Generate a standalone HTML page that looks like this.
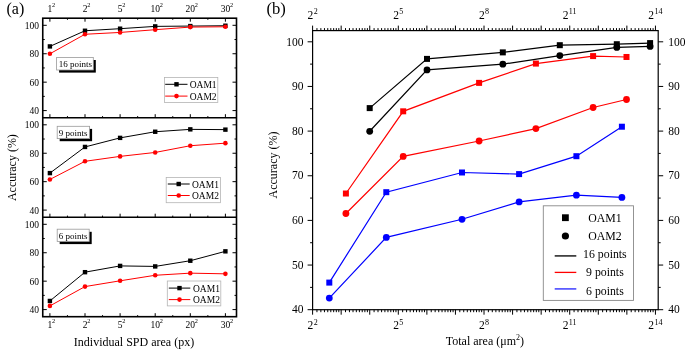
<!DOCTYPE html>
<html><head><meta charset="utf-8"><style>
html,body{margin:0;padding:0;background:#fff;}
svg{display:block;filter:blur(0.3px);}
text{font-family:"Liberation Serif", serif;fill:#000;stroke:none;}
.lt{font-size:9.5px;}
.rt{font-size:11.5px;}
</style></head><body>
<svg width="685" height="351" viewBox="0 0 685 351" stroke="#000" stroke-width="1">
<rect x="0" y="0" width="685" height="351" fill="#fff" stroke="none"/>
<g stroke="none">
</g>
<line x1="42.75" y1="110.59" x2="46.75" y2="110.59"/>
<line x1="236.5" y1="110.59" x2="232.5" y2="110.59"/>
<line x1="42.75" y1="96.38" x2="44.75" y2="96.38"/>
<line x1="236.5" y1="96.38" x2="234.5" y2="96.38"/>
<line x1="42.75" y1="82.16" x2="46.75" y2="82.16"/>
<line x1="236.5" y1="82.16" x2="232.5" y2="82.16"/>
<line x1="42.75" y1="67.95" x2="44.75" y2="67.95"/>
<line x1="236.5" y1="67.95" x2="234.5" y2="67.95"/>
<line x1="42.75" y1="53.74" x2="46.75" y2="53.74"/>
<line x1="236.5" y1="53.74" x2="232.5" y2="53.74"/>
<line x1="42.75" y1="39.52" x2="44.75" y2="39.52"/>
<line x1="236.5" y1="39.52" x2="234.5" y2="39.52"/>
<line x1="42.75" y1="25.31" x2="46.75" y2="25.31"/>
<line x1="236.5" y1="25.31" x2="232.5" y2="25.31"/>
<line x1="49.9" y1="117.7" x2="49.9" y2="114.2"/>
<line x1="67.45" y1="117.7" x2="67.45" y2="116.1"/>
<line x1="49.9" y1="18.2" x2="49.9" y2="21.7"/>
<line x1="67.45" y1="18.2" x2="67.45" y2="19.8"/>
<line x1="85" y1="117.7" x2="85" y2="114.2"/>
<line x1="102.55" y1="117.7" x2="102.55" y2="116.1"/>
<line x1="85" y1="18.2" x2="85" y2="21.7"/>
<line x1="102.55" y1="18.2" x2="102.55" y2="19.8"/>
<line x1="120.1" y1="117.7" x2="120.1" y2="114.2"/>
<line x1="137.65" y1="117.7" x2="137.65" y2="116.1"/>
<line x1="120.1" y1="18.2" x2="120.1" y2="21.7"/>
<line x1="137.65" y1="18.2" x2="137.65" y2="19.8"/>
<line x1="155.2" y1="117.7" x2="155.2" y2="114.2"/>
<line x1="172.75" y1="117.7" x2="172.75" y2="116.1"/>
<line x1="155.2" y1="18.2" x2="155.2" y2="21.7"/>
<line x1="172.75" y1="18.2" x2="172.75" y2="19.8"/>
<line x1="190.3" y1="117.7" x2="190.3" y2="114.2"/>
<line x1="207.85" y1="117.7" x2="207.85" y2="116.1"/>
<line x1="190.3" y1="18.2" x2="190.3" y2="21.7"/>
<line x1="207.85" y1="18.2" x2="207.85" y2="19.8"/>
<line x1="225.4" y1="117.7" x2="225.4" y2="114.2"/>
<line x1="225.4" y1="18.2" x2="225.4" y2="21.7"/>
<text class="lt" x="39.1" y="114.19" text-anchor="end">40</text>
<text class="lt" x="39.1" y="85.76" text-anchor="end">60</text>
<text class="lt" x="39.1" y="57.34" text-anchor="end">80</text>
<text class="lt" x="39.1" y="28.91" text-anchor="end">100</text>
<line x1="42.75" y1="210.09" x2="46.75" y2="210.09"/>
<line x1="236.5" y1="210.09" x2="232.5" y2="210.09"/>
<line x1="42.75" y1="195.88" x2="44.75" y2="195.88"/>
<line x1="236.5" y1="195.88" x2="234.5" y2="195.88"/>
<line x1="42.75" y1="181.66" x2="46.75" y2="181.66"/>
<line x1="236.5" y1="181.66" x2="232.5" y2="181.66"/>
<line x1="42.75" y1="167.45" x2="44.75" y2="167.45"/>
<line x1="236.5" y1="167.45" x2="234.5" y2="167.45"/>
<line x1="42.75" y1="153.24" x2="46.75" y2="153.24"/>
<line x1="236.5" y1="153.24" x2="232.5" y2="153.24"/>
<line x1="42.75" y1="139.02" x2="44.75" y2="139.02"/>
<line x1="236.5" y1="139.02" x2="234.5" y2="139.02"/>
<line x1="42.75" y1="124.81" x2="46.75" y2="124.81"/>
<line x1="236.5" y1="124.81" x2="232.5" y2="124.81"/>
<line x1="49.9" y1="217.2" x2="49.9" y2="213.7"/>
<line x1="67.45" y1="217.2" x2="67.45" y2="215.6"/>
<line x1="85" y1="217.2" x2="85" y2="213.7"/>
<line x1="102.55" y1="217.2" x2="102.55" y2="215.6"/>
<line x1="120.1" y1="217.2" x2="120.1" y2="213.7"/>
<line x1="137.65" y1="217.2" x2="137.65" y2="215.6"/>
<line x1="155.2" y1="217.2" x2="155.2" y2="213.7"/>
<line x1="172.75" y1="217.2" x2="172.75" y2="215.6"/>
<line x1="190.3" y1="217.2" x2="190.3" y2="213.7"/>
<line x1="207.85" y1="217.2" x2="207.85" y2="215.6"/>
<line x1="225.4" y1="217.2" x2="225.4" y2="213.7"/>
<text class="lt" x="39.1" y="213.69" text-anchor="end">40</text>
<text class="lt" x="39.1" y="185.26" text-anchor="end">60</text>
<text class="lt" x="39.1" y="156.84" text-anchor="end">80</text>
<text class="lt" x="39.1" y="128.41" text-anchor="end">100</text>
<line x1="42.75" y1="309.59" x2="46.75" y2="309.59"/>
<line x1="236.5" y1="309.59" x2="232.5" y2="309.59"/>
<line x1="42.75" y1="295.38" x2="44.75" y2="295.38"/>
<line x1="236.5" y1="295.38" x2="234.5" y2="295.38"/>
<line x1="42.75" y1="281.16" x2="46.75" y2="281.16"/>
<line x1="236.5" y1="281.16" x2="232.5" y2="281.16"/>
<line x1="42.75" y1="266.95" x2="44.75" y2="266.95"/>
<line x1="236.5" y1="266.95" x2="234.5" y2="266.95"/>
<line x1="42.75" y1="252.74" x2="46.75" y2="252.74"/>
<line x1="236.5" y1="252.74" x2="232.5" y2="252.74"/>
<line x1="42.75" y1="238.52" x2="44.75" y2="238.52"/>
<line x1="236.5" y1="238.52" x2="234.5" y2="238.52"/>
<line x1="42.75" y1="224.31" x2="46.75" y2="224.31"/>
<line x1="236.5" y1="224.31" x2="232.5" y2="224.31"/>
<line x1="49.9" y1="316.7" x2="49.9" y2="313.2"/>
<line x1="67.45" y1="316.7" x2="67.45" y2="315.1"/>
<line x1="85" y1="316.7" x2="85" y2="313.2"/>
<line x1="102.55" y1="316.7" x2="102.55" y2="315.1"/>
<line x1="120.1" y1="316.7" x2="120.1" y2="313.2"/>
<line x1="137.65" y1="316.7" x2="137.65" y2="315.1"/>
<line x1="155.2" y1="316.7" x2="155.2" y2="313.2"/>
<line x1="172.75" y1="316.7" x2="172.75" y2="315.1"/>
<line x1="190.3" y1="316.7" x2="190.3" y2="313.2"/>
<line x1="207.85" y1="316.7" x2="207.85" y2="315.1"/>
<line x1="225.4" y1="316.7" x2="225.4" y2="313.2"/>
<text class="lt" x="39.1" y="313.19" text-anchor="end">40</text>
<text class="lt" x="39.1" y="284.76" text-anchor="end">60</text>
<text class="lt" x="39.1" y="256.34" text-anchor="end">80</text>
<text class="lt" x="39.1" y="227.91" text-anchor="end">100</text>
<rect x="42.75" y="18.2" width="193.75" height="298.5" fill="none" stroke-width="1.6"/>
<line x1="42.75" y1="117.7" x2="236.5" y2="117.7" stroke-width="1.6"/>
<line x1="42.75" y1="217.2" x2="236.5" y2="217.2" stroke-width="1.6"/>
<text class="lt" x="49.9" y="11.9" text-anchor="middle">1</text><text x="52.07" y="6.6" font-size="6.3">2</text>
<text class="lt" x="49.9" y="328" text-anchor="middle">1</text><text x="52.07" y="323.1" font-size="6.3">2</text>
<text class="lt" x="85" y="11.9" text-anchor="middle">2</text><text x="87.17" y="6.6" font-size="6.3">2</text>
<text class="lt" x="85" y="328" text-anchor="middle">2</text><text x="87.17" y="323.1" font-size="6.3">2</text>
<text class="lt" x="120.1" y="11.9" text-anchor="middle">5</text><text x="122.27" y="6.6" font-size="6.3">2</text>
<text class="lt" x="120.1" y="328" text-anchor="middle">5</text><text x="122.27" y="323.1" font-size="6.3">2</text>
<text class="lt" x="155.2" y="11.9" text-anchor="middle">10</text><text x="159.75" y="6.6" font-size="6.3">2</text>
<text class="lt" x="155.2" y="328" text-anchor="middle">10</text><text x="159.75" y="323.1" font-size="6.3">2</text>
<text class="lt" x="190.3" y="11.9" text-anchor="middle">20</text><text x="194.85" y="6.6" font-size="6.3">2</text>
<text class="lt" x="190.3" y="328" text-anchor="middle">20</text><text x="194.85" y="323.1" font-size="6.3">2</text>
<text class="lt" x="225.4" y="11.9" text-anchor="middle">30</text><text x="229.95" y="6.6" font-size="6.3">2</text>
<text class="lt" x="225.4" y="328" text-anchor="middle">30</text><text x="229.95" y="323.1" font-size="6.3">2</text>
<polyline points="49.9,46.42 85,30.75 120.1,28.68 155.2,26.39 190.3,26.07 225.4,25.72" fill="none" stroke="#000" stroke-width="1"/>
<rect x="47.7" y="44.22" width="4.4" height="4.4" fill="#000" stroke="none"/>
<rect x="82.8" y="28.55" width="4.4" height="4.4" fill="#000" stroke="none"/>
<rect x="117.9" y="26.48" width="4.4" height="4.4" fill="#000" stroke="none"/>
<rect x="153" y="24.19" width="4.4" height="4.4" fill="#000" stroke="none"/>
<rect x="188.1" y="23.87" width="4.4" height="4.4" fill="#000" stroke="none"/>
<rect x="223.2" y="23.52" width="4.4" height="4.4" fill="#000" stroke="none"/>
<polyline points="49.9,53.79 85,34.25 120.1,32.44 155.2,29.7 190.3,27.08 225.4,26.77" fill="none" stroke="#f00" stroke-width="1"/>
<circle cx="49.9" cy="53.79" r="2.3" fill="#f00" stroke="none"/>
<circle cx="85" cy="34.25" r="2.3" fill="#f00" stroke="none"/>
<circle cx="120.1" cy="32.44" r="2.3" fill="#f00" stroke="none"/>
<circle cx="155.2" cy="29.7" r="2.3" fill="#f00" stroke="none"/>
<circle cx="190.3" cy="27.08" r="2.3" fill="#f00" stroke="none"/>
<circle cx="225.4" cy="26.77" r="2.3" fill="#f00" stroke="none"/>
<polyline points="49.9,173.11 85,146.94 120.1,137.88 155.2,131.74 190.3,129.36 225.4,129.64" fill="none" stroke="#000" stroke-width="1"/>
<rect x="47.7" y="170.91" width="4.4" height="4.4" fill="#000" stroke="none"/>
<rect x="82.8" y="144.74" width="4.4" height="4.4" fill="#000" stroke="none"/>
<rect x="117.9" y="135.68" width="4.4" height="4.4" fill="#000" stroke="none"/>
<rect x="153" y="129.54" width="4.4" height="4.4" fill="#000" stroke="none"/>
<rect x="188.1" y="127.16" width="4.4" height="4.4" fill="#000" stroke="none"/>
<rect x="223.2" y="127.44" width="4.4" height="4.4" fill="#000" stroke="none"/>
<polyline points="49.9,179.46 85,161.3 120.1,156.39 155.2,152.44 190.3,145.72 225.4,143.17" fill="none" stroke="#f00" stroke-width="1"/>
<circle cx="49.9" cy="179.46" r="2.3" fill="#f00" stroke="none"/>
<circle cx="85" cy="161.3" r="2.3" fill="#f00" stroke="none"/>
<circle cx="120.1" cy="156.39" r="2.3" fill="#f00" stroke="none"/>
<circle cx="155.2" cy="152.44" r="2.3" fill="#f00" stroke="none"/>
<circle cx="190.3" cy="145.72" r="2.3" fill="#f00" stroke="none"/>
<circle cx="225.4" cy="143.17" r="2.3" fill="#f00" stroke="none"/>
<polyline points="49.9,300.96 85,272.18 120.1,265.91 155.2,266.42 190.3,260.72 225.4,251.34" fill="none" stroke="#000" stroke-width="1"/>
<rect x="47.7" y="298.76" width="4.4" height="4.4" fill="#000" stroke="none"/>
<rect x="82.8" y="269.98" width="4.4" height="4.4" fill="#000" stroke="none"/>
<rect x="117.9" y="263.71" width="4.4" height="4.4" fill="#000" stroke="none"/>
<rect x="153" y="264.22" width="4.4" height="4.4" fill="#000" stroke="none"/>
<rect x="188.1" y="258.52" width="4.4" height="4.4" fill="#000" stroke="none"/>
<rect x="223.2" y="249.14" width="4.4" height="4.4" fill="#000" stroke="none"/>
<polyline points="49.9,305.9 85,286.58 120.1,280.81 155.2,275.28 190.3,273.15 225.4,273.84" fill="none" stroke="#f00" stroke-width="1"/>
<circle cx="49.9" cy="305.9" r="2.3" fill="#f00" stroke="none"/>
<circle cx="85" cy="286.58" r="2.3" fill="#f00" stroke="none"/>
<circle cx="120.1" cy="280.81" r="2.3" fill="#f00" stroke="none"/>
<circle cx="155.2" cy="275.28" r="2.3" fill="#f00" stroke="none"/>
<circle cx="190.3" cy="273.15" r="2.3" fill="#f00" stroke="none"/>
<circle cx="225.4" cy="273.84" r="2.3" fill="#f00" stroke="none"/>
<rect x="59.1" y="60" width="36.7" height="12.6" fill="#000" stroke="none"/>
<rect x="56.6" y="57.4" width="36.7" height="12.6" fill="#fff" stroke="#999" stroke-width="0.8"/>
<text x="58.8" y="67.1" font-size="9">16 points</text>
<rect x="59.7" y="128.9" width="32.4" height="12.3" fill="#000" stroke="none"/>
<rect x="57.2" y="126.3" width="32.4" height="12.3" fill="#fff" stroke="#999" stroke-width="0.8"/>
<text x="58.8" y="136" font-size="9">9 points</text>
<rect x="59.7" y="231.8" width="32" height="12.3" fill="#000" stroke="none"/>
<rect x="57.2" y="229.2" width="32" height="12.3" fill="#fff" stroke="#999" stroke-width="0.8"/>
<text x="58.8" y="238.6" font-size="9">6 points</text>
<rect x="164.4" y="77.4" width="53.4" height="25.1" fill="#fff" stroke="#b4b4b4" stroke-width="0.8"/>
<line x1="165.2" y1="84.3" x2="187.5" y2="84.3" stroke="#000" stroke-width="1"/>
<rect x="174.3" y="82.1" width="4.4" height="4.4" fill="#000" stroke="none"/>
<text class="lt" x="189.7" y="87.8">OAM1</text>
<line x1="165.2" y1="96.1" x2="187.5" y2="96.1" stroke="#f00" stroke-width="1"/>
<circle cx="176.5" cy="96.1" r="2.3" fill="#f00" stroke="none"/>
<text class="lt" x="189.7" y="99.6">OAM2</text>
<rect x="166.2" y="177.4" width="54.2" height="25.3" fill="#fff" stroke="#b4b4b4" stroke-width="0.8"/>
<line x1="167.8" y1="184" x2="189.7" y2="184" stroke="#000" stroke-width="1"/>
<rect x="176.5" y="181.8" width="4.4" height="4.4" fill="#000" stroke="none"/>
<text class="lt" x="192" y="187.5">OAM1</text>
<line x1="167.8" y1="195.5" x2="189.7" y2="195.5" stroke="#f00" stroke-width="1"/>
<circle cx="178.7" cy="195.5" r="2.3" fill="#f00" stroke="none"/>
<text class="lt" x="192" y="199">OAM2</text>
<rect x="167.3" y="281" width="53.5" height="24.9" fill="#fff" stroke="#b4b4b4" stroke-width="0.8"/>
<line x1="168.8" y1="288.1" x2="190.3" y2="288.1" stroke="#000" stroke-width="1"/>
<rect x="177.3" y="285.9" width="4.4" height="4.4" fill="#000" stroke="none"/>
<text class="lt" x="193" y="291.6">OAM1</text>
<line x1="168.8" y1="299.6" x2="190.3" y2="299.6" stroke="#f00" stroke-width="1"/>
<circle cx="179.5" cy="299.6" r="2.3" fill="#f00" stroke="none"/>
<text class="lt" x="193" y="303.1">OAM2</text>
<text x="6.5" y="13.8" font-size="16">(a)</text>
<text x="0" y="0" font-size="12" text-anchor="middle" transform="translate(16,167.6) rotate(-90)">Accuracy (%)</text>
<text x="134" y="346" font-size="12" text-anchor="middle">Individual SPD area (px)</text>
<line x1="312.6" y1="309.7" x2="307.6" y2="309.7"/>
<line x1="658.2" y1="309.7" x2="663.2" y2="309.7"/>
<text class="rt" x="303.4" y="313.4" text-anchor="end">40</text>
<text class="rt" x="668.2" y="313.4">40</text>
<line x1="312.6" y1="287.38" x2="310.1" y2="287.38"/>
<line x1="658.2" y1="287.38" x2="660.7" y2="287.38"/>
<line x1="312.6" y1="265.05" x2="307.6" y2="265.05"/>
<line x1="658.2" y1="265.05" x2="663.2" y2="265.05"/>
<text class="rt" x="303.4" y="268.75" text-anchor="end">50</text>
<text class="rt" x="668.2" y="268.75">50</text>
<line x1="312.6" y1="242.72" x2="310.1" y2="242.72"/>
<line x1="658.2" y1="242.72" x2="660.7" y2="242.72"/>
<line x1="312.6" y1="220.4" x2="307.6" y2="220.4"/>
<line x1="658.2" y1="220.4" x2="663.2" y2="220.4"/>
<text class="rt" x="303.4" y="224.1" text-anchor="end">60</text>
<text class="rt" x="668.2" y="224.1">60</text>
<line x1="312.6" y1="198.07" x2="310.1" y2="198.07"/>
<line x1="658.2" y1="198.07" x2="660.7" y2="198.07"/>
<line x1="312.6" y1="175.75" x2="307.6" y2="175.75"/>
<line x1="658.2" y1="175.75" x2="663.2" y2="175.75"/>
<text class="rt" x="303.4" y="179.45" text-anchor="end">70</text>
<text class="rt" x="668.2" y="179.45">70</text>
<line x1="312.6" y1="153.42" x2="310.1" y2="153.42"/>
<line x1="658.2" y1="153.42" x2="660.7" y2="153.42"/>
<line x1="312.6" y1="131.1" x2="307.6" y2="131.1"/>
<line x1="658.2" y1="131.1" x2="663.2" y2="131.1"/>
<text class="rt" x="303.4" y="134.8" text-anchor="end">80</text>
<text class="rt" x="668.2" y="134.8">80</text>
<line x1="312.6" y1="108.78" x2="310.1" y2="108.78"/>
<line x1="658.2" y1="108.78" x2="660.7" y2="108.78"/>
<line x1="312.6" y1="86.45" x2="307.6" y2="86.45"/>
<line x1="658.2" y1="86.45" x2="663.2" y2="86.45"/>
<text class="rt" x="303.4" y="90.15" text-anchor="end">90</text>
<text class="rt" x="668.2" y="90.15">90</text>
<line x1="312.6" y1="64.12" x2="310.1" y2="64.12"/>
<line x1="658.2" y1="64.12" x2="660.7" y2="64.12"/>
<line x1="312.6" y1="41.8" x2="307.6" y2="41.8"/>
<line x1="658.2" y1="41.8" x2="663.2" y2="41.8"/>
<text class="rt" x="303.4" y="45.5" text-anchor="end">100</text>
<text class="rt" x="668.2" y="45.5">100</text>
<line x1="312.6" y1="30.6" x2="312.6" y2="25.6"/>
<line x1="312.6" y1="309.7" x2="312.6" y2="314.7"/>
<line x1="316.94" y1="30.6" x2="316.94" y2="28.1"/>
<line x1="316.94" y1="309.7" x2="316.94" y2="312.2"/>
<line x1="320.87" y1="30.6" x2="320.87" y2="28.1"/>
<line x1="320.87" y1="309.7" x2="320.87" y2="312.2"/>
<line x1="324.46" y1="30.6" x2="324.46" y2="28.1"/>
<line x1="324.46" y1="309.7" x2="324.46" y2="312.2"/>
<line x1="327.76" y1="30.6" x2="327.76" y2="28.1"/>
<line x1="327.76" y1="309.7" x2="327.76" y2="312.2"/>
<line x1="330.81" y1="30.6" x2="330.81" y2="28.1"/>
<line x1="330.81" y1="309.7" x2="330.81" y2="312.2"/>
<line x1="333.66" y1="30.6" x2="333.66" y2="28.1"/>
<line x1="333.66" y1="309.7" x2="333.66" y2="312.2"/>
<line x1="336.32" y1="30.6" x2="336.32" y2="28.1"/>
<line x1="336.32" y1="309.7" x2="336.32" y2="312.2"/>
<line x1="338.81" y1="30.6" x2="338.81" y2="28.1"/>
<line x1="338.81" y1="309.7" x2="338.81" y2="312.2"/>
<line x1="341.17" y1="30.6" x2="341.17" y2="25.6"/>
<line x1="341.17" y1="309.7" x2="341.17" y2="314.7"/>
<line x1="345.51" y1="30.6" x2="345.51" y2="28.1"/>
<line x1="345.51" y1="309.7" x2="345.51" y2="312.2"/>
<line x1="349.44" y1="30.6" x2="349.44" y2="28.1"/>
<line x1="349.44" y1="309.7" x2="349.44" y2="312.2"/>
<line x1="353.03" y1="30.6" x2="353.03" y2="28.1"/>
<line x1="353.03" y1="309.7" x2="353.03" y2="312.2"/>
<line x1="356.33" y1="30.6" x2="356.33" y2="28.1"/>
<line x1="356.33" y1="309.7" x2="356.33" y2="312.2"/>
<line x1="359.38" y1="30.6" x2="359.38" y2="28.1"/>
<line x1="359.38" y1="309.7" x2="359.38" y2="312.2"/>
<line x1="362.23" y1="30.6" x2="362.23" y2="28.1"/>
<line x1="362.23" y1="309.7" x2="362.23" y2="312.2"/>
<line x1="364.89" y1="30.6" x2="364.89" y2="28.1"/>
<line x1="364.89" y1="309.7" x2="364.89" y2="312.2"/>
<line x1="367.38" y1="30.6" x2="367.38" y2="28.1"/>
<line x1="367.38" y1="309.7" x2="367.38" y2="312.2"/>
<line x1="369.74" y1="30.6" x2="369.74" y2="25.6"/>
<line x1="369.74" y1="309.7" x2="369.74" y2="314.7"/>
<line x1="374.08" y1="30.6" x2="374.08" y2="28.1"/>
<line x1="374.08" y1="309.7" x2="374.08" y2="312.2"/>
<line x1="378.01" y1="30.6" x2="378.01" y2="28.1"/>
<line x1="378.01" y1="309.7" x2="378.01" y2="312.2"/>
<line x1="381.6" y1="30.6" x2="381.6" y2="28.1"/>
<line x1="381.6" y1="309.7" x2="381.6" y2="312.2"/>
<line x1="384.9" y1="30.6" x2="384.9" y2="28.1"/>
<line x1="384.9" y1="309.7" x2="384.9" y2="312.2"/>
<line x1="387.95" y1="30.6" x2="387.95" y2="28.1"/>
<line x1="387.95" y1="309.7" x2="387.95" y2="312.2"/>
<line x1="390.8" y1="30.6" x2="390.8" y2="28.1"/>
<line x1="390.8" y1="309.7" x2="390.8" y2="312.2"/>
<line x1="393.46" y1="30.6" x2="393.46" y2="28.1"/>
<line x1="393.46" y1="309.7" x2="393.46" y2="312.2"/>
<line x1="395.95" y1="30.6" x2="395.95" y2="28.1"/>
<line x1="395.95" y1="309.7" x2="395.95" y2="312.2"/>
<line x1="398.31" y1="30.6" x2="398.31" y2="25.6"/>
<line x1="398.31" y1="309.7" x2="398.31" y2="314.7"/>
<line x1="402.65" y1="30.6" x2="402.65" y2="28.1"/>
<line x1="402.65" y1="309.7" x2="402.65" y2="312.2"/>
<line x1="406.58" y1="30.6" x2="406.58" y2="28.1"/>
<line x1="406.58" y1="309.7" x2="406.58" y2="312.2"/>
<line x1="410.17" y1="30.6" x2="410.17" y2="28.1"/>
<line x1="410.17" y1="309.7" x2="410.17" y2="312.2"/>
<line x1="413.47" y1="30.6" x2="413.47" y2="28.1"/>
<line x1="413.47" y1="309.7" x2="413.47" y2="312.2"/>
<line x1="416.52" y1="30.6" x2="416.52" y2="28.1"/>
<line x1="416.52" y1="309.7" x2="416.52" y2="312.2"/>
<line x1="419.37" y1="30.6" x2="419.37" y2="28.1"/>
<line x1="419.37" y1="309.7" x2="419.37" y2="312.2"/>
<line x1="422.03" y1="30.6" x2="422.03" y2="28.1"/>
<line x1="422.03" y1="309.7" x2="422.03" y2="312.2"/>
<line x1="424.52" y1="30.6" x2="424.52" y2="28.1"/>
<line x1="424.52" y1="309.7" x2="424.52" y2="312.2"/>
<line x1="426.88" y1="30.6" x2="426.88" y2="25.6"/>
<line x1="426.88" y1="309.7" x2="426.88" y2="314.7"/>
<line x1="431.22" y1="30.6" x2="431.22" y2="28.1"/>
<line x1="431.22" y1="309.7" x2="431.22" y2="312.2"/>
<line x1="435.15" y1="30.6" x2="435.15" y2="28.1"/>
<line x1="435.15" y1="309.7" x2="435.15" y2="312.2"/>
<line x1="438.74" y1="30.6" x2="438.74" y2="28.1"/>
<line x1="438.74" y1="309.7" x2="438.74" y2="312.2"/>
<line x1="442.04" y1="30.6" x2="442.04" y2="28.1"/>
<line x1="442.04" y1="309.7" x2="442.04" y2="312.2"/>
<line x1="445.09" y1="30.6" x2="445.09" y2="28.1"/>
<line x1="445.09" y1="309.7" x2="445.09" y2="312.2"/>
<line x1="447.94" y1="30.6" x2="447.94" y2="28.1"/>
<line x1="447.94" y1="309.7" x2="447.94" y2="312.2"/>
<line x1="450.6" y1="30.6" x2="450.6" y2="28.1"/>
<line x1="450.6" y1="309.7" x2="450.6" y2="312.2"/>
<line x1="453.09" y1="30.6" x2="453.09" y2="28.1"/>
<line x1="453.09" y1="309.7" x2="453.09" y2="312.2"/>
<line x1="455.45" y1="30.6" x2="455.45" y2="25.6"/>
<line x1="455.45" y1="309.7" x2="455.45" y2="314.7"/>
<line x1="459.79" y1="30.6" x2="459.79" y2="28.1"/>
<line x1="459.79" y1="309.7" x2="459.79" y2="312.2"/>
<line x1="463.72" y1="30.6" x2="463.72" y2="28.1"/>
<line x1="463.72" y1="309.7" x2="463.72" y2="312.2"/>
<line x1="467.31" y1="30.6" x2="467.31" y2="28.1"/>
<line x1="467.31" y1="309.7" x2="467.31" y2="312.2"/>
<line x1="470.61" y1="30.6" x2="470.61" y2="28.1"/>
<line x1="470.61" y1="309.7" x2="470.61" y2="312.2"/>
<line x1="473.66" y1="30.6" x2="473.66" y2="28.1"/>
<line x1="473.66" y1="309.7" x2="473.66" y2="312.2"/>
<line x1="476.51" y1="30.6" x2="476.51" y2="28.1"/>
<line x1="476.51" y1="309.7" x2="476.51" y2="312.2"/>
<line x1="479.17" y1="30.6" x2="479.17" y2="28.1"/>
<line x1="479.17" y1="309.7" x2="479.17" y2="312.2"/>
<line x1="481.66" y1="30.6" x2="481.66" y2="28.1"/>
<line x1="481.66" y1="309.7" x2="481.66" y2="312.2"/>
<line x1="484.02" y1="30.6" x2="484.02" y2="25.6"/>
<line x1="484.02" y1="309.7" x2="484.02" y2="314.7"/>
<line x1="488.36" y1="30.6" x2="488.36" y2="28.1"/>
<line x1="488.36" y1="309.7" x2="488.36" y2="312.2"/>
<line x1="492.29" y1="30.6" x2="492.29" y2="28.1"/>
<line x1="492.29" y1="309.7" x2="492.29" y2="312.2"/>
<line x1="495.88" y1="30.6" x2="495.88" y2="28.1"/>
<line x1="495.88" y1="309.7" x2="495.88" y2="312.2"/>
<line x1="499.18" y1="30.6" x2="499.18" y2="28.1"/>
<line x1="499.18" y1="309.7" x2="499.18" y2="312.2"/>
<line x1="502.23" y1="30.6" x2="502.23" y2="28.1"/>
<line x1="502.23" y1="309.7" x2="502.23" y2="312.2"/>
<line x1="505.08" y1="30.6" x2="505.08" y2="28.1"/>
<line x1="505.08" y1="309.7" x2="505.08" y2="312.2"/>
<line x1="507.74" y1="30.6" x2="507.74" y2="28.1"/>
<line x1="507.74" y1="309.7" x2="507.74" y2="312.2"/>
<line x1="510.23" y1="30.6" x2="510.23" y2="28.1"/>
<line x1="510.23" y1="309.7" x2="510.23" y2="312.2"/>
<line x1="512.59" y1="30.6" x2="512.59" y2="25.6"/>
<line x1="512.59" y1="309.7" x2="512.59" y2="314.7"/>
<line x1="516.93" y1="30.6" x2="516.93" y2="28.1"/>
<line x1="516.93" y1="309.7" x2="516.93" y2="312.2"/>
<line x1="520.86" y1="30.6" x2="520.86" y2="28.1"/>
<line x1="520.86" y1="309.7" x2="520.86" y2="312.2"/>
<line x1="524.45" y1="30.6" x2="524.45" y2="28.1"/>
<line x1="524.45" y1="309.7" x2="524.45" y2="312.2"/>
<line x1="527.75" y1="30.6" x2="527.75" y2="28.1"/>
<line x1="527.75" y1="309.7" x2="527.75" y2="312.2"/>
<line x1="530.8" y1="30.6" x2="530.8" y2="28.1"/>
<line x1="530.8" y1="309.7" x2="530.8" y2="312.2"/>
<line x1="533.65" y1="30.6" x2="533.65" y2="28.1"/>
<line x1="533.65" y1="309.7" x2="533.65" y2="312.2"/>
<line x1="536.31" y1="30.6" x2="536.31" y2="28.1"/>
<line x1="536.31" y1="309.7" x2="536.31" y2="312.2"/>
<line x1="538.8" y1="30.6" x2="538.8" y2="28.1"/>
<line x1="538.8" y1="309.7" x2="538.8" y2="312.2"/>
<line x1="541.16" y1="30.6" x2="541.16" y2="25.6"/>
<line x1="541.16" y1="309.7" x2="541.16" y2="314.7"/>
<line x1="545.5" y1="30.6" x2="545.5" y2="28.1"/>
<line x1="545.5" y1="309.7" x2="545.5" y2="312.2"/>
<line x1="549.43" y1="30.6" x2="549.43" y2="28.1"/>
<line x1="549.43" y1="309.7" x2="549.43" y2="312.2"/>
<line x1="553.02" y1="30.6" x2="553.02" y2="28.1"/>
<line x1="553.02" y1="309.7" x2="553.02" y2="312.2"/>
<line x1="556.32" y1="30.6" x2="556.32" y2="28.1"/>
<line x1="556.32" y1="309.7" x2="556.32" y2="312.2"/>
<line x1="559.37" y1="30.6" x2="559.37" y2="28.1"/>
<line x1="559.37" y1="309.7" x2="559.37" y2="312.2"/>
<line x1="562.22" y1="30.6" x2="562.22" y2="28.1"/>
<line x1="562.22" y1="309.7" x2="562.22" y2="312.2"/>
<line x1="564.88" y1="30.6" x2="564.88" y2="28.1"/>
<line x1="564.88" y1="309.7" x2="564.88" y2="312.2"/>
<line x1="567.37" y1="30.6" x2="567.37" y2="28.1"/>
<line x1="567.37" y1="309.7" x2="567.37" y2="312.2"/>
<line x1="569.73" y1="30.6" x2="569.73" y2="25.6"/>
<line x1="569.73" y1="309.7" x2="569.73" y2="314.7"/>
<line x1="574.07" y1="30.6" x2="574.07" y2="28.1"/>
<line x1="574.07" y1="309.7" x2="574.07" y2="312.2"/>
<line x1="578" y1="30.6" x2="578" y2="28.1"/>
<line x1="578" y1="309.7" x2="578" y2="312.2"/>
<line x1="581.59" y1="30.6" x2="581.59" y2="28.1"/>
<line x1="581.59" y1="309.7" x2="581.59" y2="312.2"/>
<line x1="584.89" y1="30.6" x2="584.89" y2="28.1"/>
<line x1="584.89" y1="309.7" x2="584.89" y2="312.2"/>
<line x1="587.94" y1="30.6" x2="587.94" y2="28.1"/>
<line x1="587.94" y1="309.7" x2="587.94" y2="312.2"/>
<line x1="590.79" y1="30.6" x2="590.79" y2="28.1"/>
<line x1="590.79" y1="309.7" x2="590.79" y2="312.2"/>
<line x1="593.45" y1="30.6" x2="593.45" y2="28.1"/>
<line x1="593.45" y1="309.7" x2="593.45" y2="312.2"/>
<line x1="595.94" y1="30.6" x2="595.94" y2="28.1"/>
<line x1="595.94" y1="309.7" x2="595.94" y2="312.2"/>
<line x1="598.3" y1="30.6" x2="598.3" y2="25.6"/>
<line x1="598.3" y1="309.7" x2="598.3" y2="314.7"/>
<line x1="602.64" y1="30.6" x2="602.64" y2="28.1"/>
<line x1="602.64" y1="309.7" x2="602.64" y2="312.2"/>
<line x1="606.57" y1="30.6" x2="606.57" y2="28.1"/>
<line x1="606.57" y1="309.7" x2="606.57" y2="312.2"/>
<line x1="610.16" y1="30.6" x2="610.16" y2="28.1"/>
<line x1="610.16" y1="309.7" x2="610.16" y2="312.2"/>
<line x1="613.46" y1="30.6" x2="613.46" y2="28.1"/>
<line x1="613.46" y1="309.7" x2="613.46" y2="312.2"/>
<line x1="616.51" y1="30.6" x2="616.51" y2="28.1"/>
<line x1="616.51" y1="309.7" x2="616.51" y2="312.2"/>
<line x1="619.36" y1="30.6" x2="619.36" y2="28.1"/>
<line x1="619.36" y1="309.7" x2="619.36" y2="312.2"/>
<line x1="622.02" y1="30.6" x2="622.02" y2="28.1"/>
<line x1="622.02" y1="309.7" x2="622.02" y2="312.2"/>
<line x1="624.51" y1="30.6" x2="624.51" y2="28.1"/>
<line x1="624.51" y1="309.7" x2="624.51" y2="312.2"/>
<line x1="626.87" y1="30.6" x2="626.87" y2="25.6"/>
<line x1="626.87" y1="309.7" x2="626.87" y2="314.7"/>
<line x1="631.21" y1="30.6" x2="631.21" y2="28.1"/>
<line x1="631.21" y1="309.7" x2="631.21" y2="312.2"/>
<line x1="635.14" y1="30.6" x2="635.14" y2="28.1"/>
<line x1="635.14" y1="309.7" x2="635.14" y2="312.2"/>
<line x1="638.73" y1="30.6" x2="638.73" y2="28.1"/>
<line x1="638.73" y1="309.7" x2="638.73" y2="312.2"/>
<line x1="642.03" y1="30.6" x2="642.03" y2="28.1"/>
<line x1="642.03" y1="309.7" x2="642.03" y2="312.2"/>
<line x1="645.08" y1="30.6" x2="645.08" y2="28.1"/>
<line x1="645.08" y1="309.7" x2="645.08" y2="312.2"/>
<line x1="647.93" y1="30.6" x2="647.93" y2="28.1"/>
<line x1="647.93" y1="309.7" x2="647.93" y2="312.2"/>
<line x1="650.59" y1="30.6" x2="650.59" y2="28.1"/>
<line x1="650.59" y1="309.7" x2="650.59" y2="312.2"/>
<line x1="653.08" y1="30.6" x2="653.08" y2="28.1"/>
<line x1="653.08" y1="309.7" x2="653.08" y2="312.2"/>
<line x1="655.44" y1="30.6" x2="655.44" y2="25.6"/>
<line x1="655.44" y1="309.7" x2="655.44" y2="314.7"/>
<rect x="312.6" y="30.6" width="345.6" height="279.1" fill="none" stroke-width="1.2"/>
<text class="rt" x="307.53" y="18.5">2</text><text x="313.63" y="13.7" font-size="8">2</text>
<text class="rt" x="307.53" y="329.4">2</text><text x="313.63" y="324.6" font-size="8">2</text>
<text class="rt" x="393.24" y="18.5">2</text><text x="399.34" y="13.7" font-size="8">5</text>
<text class="rt" x="393.24" y="329.4">2</text><text x="399.34" y="324.6" font-size="8">5</text>
<text class="rt" x="478.95" y="18.5">2</text><text x="485.05" y="13.7" font-size="8">8</text>
<text class="rt" x="478.95" y="329.4">2</text><text x="485.05" y="324.6" font-size="8">8</text>
<text class="rt" x="562.65" y="18.5">2</text><text x="568.75" y="13.7" font-size="8">11</text>
<text class="rt" x="562.65" y="329.4">2</text><text x="568.75" y="324.6" font-size="8">11</text>
<text class="rt" x="648.37" y="18.5">2</text><text x="654.47" y="13.7" font-size="8">14</text>
<text class="rt" x="648.37" y="329.4">2</text><text x="654.47" y="324.6" font-size="8">14</text>
<polyline points="329.3,282.6 386.3,192.18 462,172.49 519.1,174.1 576.4,156.19 621.9,126.72" fill="none" stroke="#00f" stroke-width="1.2"/>
<rect x="326.3" y="279.6" width="6" height="6" fill="#00f" stroke="none"/>
<rect x="383.3" y="189.18" width="6" height="6" fill="#00f" stroke="none"/>
<rect x="459" y="169.49" width="6" height="6" fill="#00f" stroke="none"/>
<rect x="516.1" y="171.1" width="6" height="6" fill="#00f" stroke="none"/>
<rect x="573.4" y="153.19" width="6" height="6" fill="#00f" stroke="none"/>
<rect x="618.9" y="123.72" width="6" height="6" fill="#00f" stroke="none"/>
<polyline points="329.3,298.09 386.3,237.41 462,219.28 519.1,201.91 576.4,195.22 621.9,197.41" fill="none" stroke="#00f" stroke-width="1.2"/>
<circle cx="329.3" cy="298.09" r="3.4" fill="#00f" stroke="none"/>
<circle cx="386.3" cy="237.41" r="3.4" fill="#00f" stroke="none"/>
<circle cx="462" cy="219.28" r="3.4" fill="#00f" stroke="none"/>
<circle cx="519.1" cy="201.91" r="3.4" fill="#00f" stroke="none"/>
<circle cx="576.4" cy="195.22" r="3.4" fill="#00f" stroke="none"/>
<circle cx="621.9" cy="197.41" r="3.4" fill="#00f" stroke="none"/>
<polyline points="345.9,193.52 403.2,111.32 479.1,82.88 535.9,63.59 593.1,56.09 626.5,56.98" fill="none" stroke="#f00" stroke-width="1.2"/>
<rect x="342.9" y="190.52" width="6" height="6" fill="#f00" stroke="none"/>
<rect x="400.2" y="108.32" width="6" height="6" fill="#f00" stroke="none"/>
<rect x="476.1" y="79.88" width="6" height="6" fill="#f00" stroke="none"/>
<rect x="532.9" y="60.59" width="6" height="6" fill="#f00" stroke="none"/>
<rect x="590.1" y="53.09" width="6" height="6" fill="#f00" stroke="none"/>
<rect x="623.5" y="53.98" width="6" height="6" fill="#f00" stroke="none"/>
<polyline points="345.9,213.48 403.2,156.42 479.1,141.01 535.9,128.6 593.1,107.48 626.5,99.49" fill="none" stroke="#f00" stroke-width="1.2"/>
<circle cx="345.9" cy="213.48" r="3.4" fill="#f00" stroke="none"/>
<circle cx="403.2" cy="156.42" r="3.4" fill="#f00" stroke="none"/>
<circle cx="479.1" cy="141.01" r="3.4" fill="#f00" stroke="none"/>
<circle cx="535.9" cy="128.6" r="3.4" fill="#f00" stroke="none"/>
<circle cx="593.1" cy="107.48" r="3.4" fill="#f00" stroke="none"/>
<circle cx="626.5" cy="99.49" r="3.4" fill="#f00" stroke="none"/>
<polyline points="369.7,108.11 427,58.9 502.8,52.38 559.8,45.19 616.8,44.21 650.1,43.09" fill="none" stroke="#000" stroke-width="1.2"/>
<rect x="366.7" y="105.11" width="6" height="6" fill="#000" stroke="none"/>
<rect x="424" y="55.9" width="6" height="6" fill="#000" stroke="none"/>
<rect x="499.8" y="49.38" width="6" height="6" fill="#000" stroke="none"/>
<rect x="556.8" y="42.19" width="6" height="6" fill="#000" stroke="none"/>
<rect x="613.8" y="41.21" width="6" height="6" fill="#000" stroke="none"/>
<rect x="647.1" y="40.09" width="6" height="6" fill="#000" stroke="none"/>
<polyline points="369.7,131.28 427,69.88 502.8,64.21 559.8,55.6 616.8,47.38 650.1,46.4" fill="none" stroke="#000" stroke-width="1.2"/>
<circle cx="369.7" cy="131.28" r="3.4" fill="#000" stroke="none"/>
<circle cx="427" cy="69.88" r="3.4" fill="#000" stroke="none"/>
<circle cx="502.8" cy="64.21" r="3.4" fill="#000" stroke="none"/>
<circle cx="559.8" cy="55.6" r="3.4" fill="#000" stroke="none"/>
<circle cx="616.8" cy="47.38" r="3.4" fill="#000" stroke="none"/>
<circle cx="650.1" cy="46.4" r="3.4" fill="#000" stroke="none"/>
<rect x="543.3" y="205.8" width="90.2" height="94.6" fill="#fff" stroke="#888" stroke-width="0.9"/>
<rect x="562" y="214.3" width="6.8" height="6.8" fill="#000" stroke="none"/>
<circle cx="565.4" cy="236" r="3.6" fill="#000" stroke="none"/>
<line x1="554.7" y1="255.9" x2="576.3" y2="255.9" stroke="#383838" stroke-width="1.7"/>
<line x1="554.7" y1="272.4" x2="576.3" y2="272.4" stroke="#f00" stroke-width="1.3"/>
<line x1="554.7" y1="288.9" x2="576.3" y2="288.9" stroke="#4a4aff" stroke-width="1.6"/>
<text x="604.9" y="221.8" font-size="11.8" text-anchor="middle">OAM1</text>
<text x="604.9" y="240.2" font-size="11.8" text-anchor="middle">OAM2</text>
<text x="604.9" y="257.9" font-size="11.8" text-anchor="middle">16 points</text>
<text x="604.9" y="276.2" font-size="11.8" text-anchor="middle">9 points</text>
<text x="604.9" y="295.1" font-size="11.8" text-anchor="middle">6 points</text>
<text x="266.5" y="13.9" font-size="16.6">(b)</text>
<text x="0" y="0" font-size="12" text-anchor="middle" transform="translate(276.5,165) rotate(-90)">Accuracy (%)</text>
<text x="445.8" y="344.7" font-size="12">Total area (μm<tspan font-size="8" dy="-4.5">2</tspan><tspan dy="4.5">)</tspan></text>
</svg>
</body></html>
